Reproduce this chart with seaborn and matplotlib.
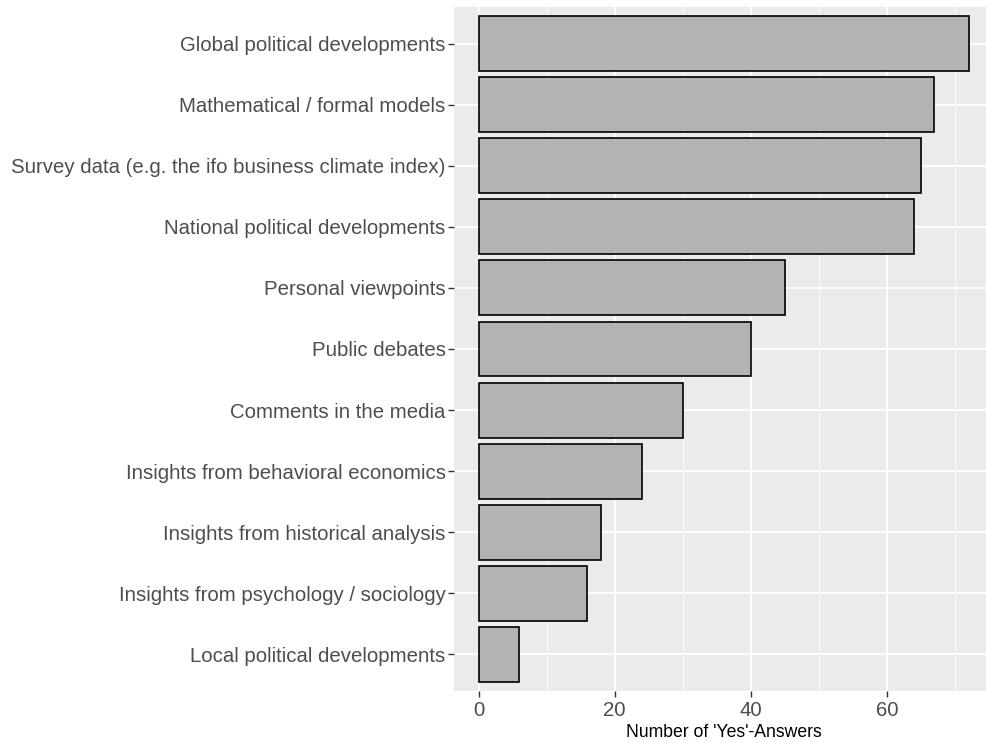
import numpy as np
import pandas as pd
import matplotlib.pyplot as plt
import seaborn as sns

# data (top to bottom)
sources = [
    "Global political developments",
    "Mathematical / formal models",
    "Survey data (e.g. the ifo business climate index)",
    "National political developments",
    "Personal viewpoints",
    "Public debates",
    "Comments in the media",
    "Insights from behavioral economics",
    "Insights from historical analysis",
    "Insights from psychology / sociology",
    "Local political developments",
]
yes_answers = [72, 67, 65, 64, 45, 40, 30, 24, 18, 16, 6]

df = pd.DataFrame({"Source": sources, "Yes": yes_answers})

sns.set_theme(style="darkgrid")
plt.rcParams['font.family'] = ['Liberation Sans', 'DejaVu Sans']

W, H = 986, 743
fig = plt.figure(figsize=(W / 100, H / 100), dpi=100)
ax = fig.add_axes([454 / W, (H - 691) / H, (993 - 454) / W, (691 - 7) / H])
ax.set_facecolor("#EBEBEB")

sns.barplot(data=df, y="Source", x="Yes", orient="h", order=sources,
            color="#B3B3B3", saturation=1, edgecolor="black", linewidth=1.2,
            width=0.9, ax=ax)

ax.set_xlim(-3.6, 75.6)
ax.set_ylim(len(sources) - 0.4, -0.6)
ax.set_xticks([0, 20, 40, 60])
ax.set_xticks([10, 30, 50, 70], minor=True)

ax.grid(True, which="major", color="white", linewidth=1.3)
ax.grid(True, which="minor", axis="x", color="white", linewidth=0.6)
ax.set_axisbelow(True)
for s in ax.spines.values():
    s.set_visible(False)

ax.tick_params(axis="both", which="major", bottom=True, left=True,
               length=4, width=1, color="#333333",
               labelcolor="#4D4D4D", labelsize=14.7, pad=2)
ax.tick_params(axis="x", which="major", pad=3)
ax.tick_params(axis="both", which="minor", length=0)

ax.set_ylabel("")
ax.set_xlabel("Number of 'Yes'-Answers", fontsize=12.7, color="black", labelpad=3)

fig.savefig("out.png", dpi=100)
